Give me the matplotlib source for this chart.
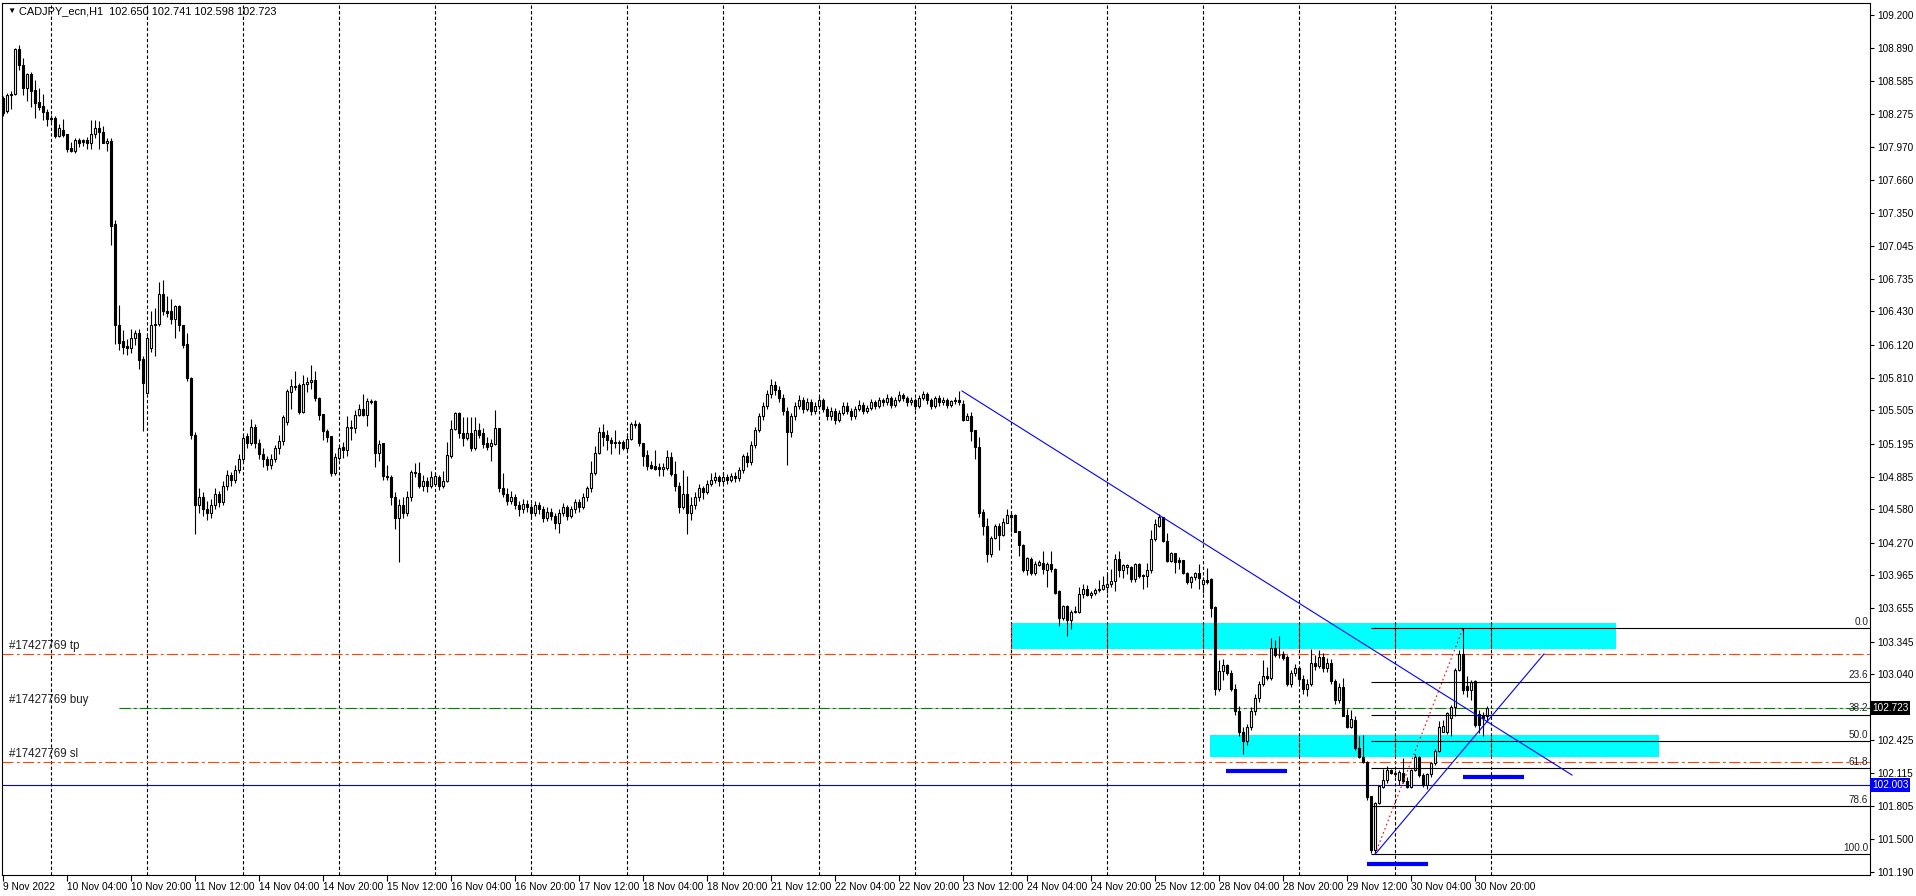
import matplotlib
matplotlib.use("Agg")
import matplotlib.pyplot as plt
from matplotlib.patches import Rectangle
from matplotlib.transforms import blended_transform_factory

plt.rcParams["font.family"] = ["Liberation Sans", "DejaVu Sans"]

symbol = "CADJPY_ecn,H1"
last_bar = "102.650 102.741 102.598 102.723"

# H1 bars, 9 Nov 12:00 .. 30 Nov 23:00, 12 bars per row
opens = [
    108.42, 108.30, 108.45, 108.46, 108.88, 108.73, 108.52, 108.65, 108.50, 108.39, 108.35, 108.29,  # 9 Nov
    108.24, 108.24, 108.07, 108.13, 108.09, 107.96, 107.93, 108.03, 108.03, 108.03, 108.00, 108.09,  # 10 Nov
    108.14, 108.11, 108.00, 108.02, 107.25, 106.30, 106.15, 106.11, 106.09, 106.18, 106.23, 105.99,
    105.67, 106.09, 106.30, 106.31, 106.59, 106.43, 106.43, 106.36, 106.48, 106.30, 106.13, 105.81,  # 11 Nov
    105.28, 104.62, 104.70, 104.58, 104.55, 104.62, 104.72, 104.65, 104.80, 104.90, 104.86, 104.95,
    105.05, 105.27, 105.20, 105.35, 105.20, 105.10, 105.05, 105.00, 105.05, 105.15, 105.22, 105.40,  # 14 Nov
    105.68, 105.73, 105.74, 105.49, 105.75, 105.77, 105.79, 105.62, 105.47, 105.31, 105.27, 104.92,
    105.06, 105.16, 105.14, 105.34, 105.34, 105.46, 105.52, 105.46, 105.59, 105.59, 105.11, 105.20,  # 15 Nov
    104.89, 104.88, 104.70, 104.50, 104.62, 104.55, 104.70, 104.93, 104.92, 104.80, 104.85, 104.80,
    104.82, 104.88, 104.80, 104.85, 105.08, 105.33, 105.48, 105.29, 105.25, 105.29, 105.15, 105.32,  # 16 Nov
    105.29, 105.20, 105.17, 105.19, 105.34, 104.78, 104.72, 104.66, 104.70, 104.62, 104.58, 104.63,
    104.60, 104.55, 104.62, 104.58, 104.50, 104.56, 104.52, 104.45, 104.55, 104.60, 104.52, 104.58,  # 17 Nov
    104.65, 104.60, 104.70, 104.78, 104.92, 105.11, 105.30, 105.28, 105.23, 105.21, 105.21, 105.21,
    105.15, 105.24, 105.38, 105.38, 105.20, 105.09, 105.00, 104.99, 104.98, 104.96, 104.97, 105.07,  # 18 Nov
    104.91, 104.80, 104.60, 104.72, 104.55, 104.62, 104.70, 104.78, 104.74, 104.82, 104.86, 104.88,
    104.85, 104.88, 104.86, 104.89, 104.87, 104.95, 105.08, 105.02, 105.18, 105.32, 105.45, 105.55,  # 21 Nov
    105.66, 105.74, 105.70, 105.62, 105.50, 105.30, 105.45, 105.55, 105.60, 105.52, 105.58, 105.50,
    105.55, 105.60, 105.52, 105.45, 105.50, 105.42, 105.48, 105.55, 105.50, 105.45, 105.52, 105.56,  # 22 Nov
    105.50, 105.53, 105.58, 105.55, 105.60, 105.58, 105.62, 105.56, 105.60, 105.65, 105.62, 105.58,
    105.60, 105.55, 105.62, 105.66, 105.60, 105.55, 105.62, 105.58, 105.60, 105.56, 105.59, 105.60,  # 23 Nov
    105.57, 105.42, 105.45, 105.32, 105.16, 104.56, 104.43, 104.16, 104.31, 104.43, 104.34, 104.45,
    104.53, 104.53, 104.38, 104.25, 104.01, 104.12, 103.99, 104.06, 104.08, 104.01, 104.07, 104.02,  # 24 Nov
    103.82, 103.57, 103.68, 103.55, 103.62, 103.62, 103.79, 103.84, 103.78, 103.80, 103.83, 103.84,
    103.86, 103.88, 103.91, 104.12, 104.01, 104.04, 104.04, 103.93, 104.07, 103.97, 103.96, 104.01,  # 25 Nov
    104.30, 104.43, 104.51, 104.29, 104.10, 104.17, 104.11, 104.11, 103.99, 103.90, 103.95, 103.99,
    103.88, 103.92, 103.93, 103.67, 102.90, 103.07, 103.13, 103.05, 102.90, 102.70, 102.50, 102.42,  # 28 Nov
    102.55, 102.70, 102.82, 102.95, 103.02, 103.01, 103.29, 103.22, 103.23, 103.20, 102.95, 103.05,
    103.10, 103.00, 102.90, 102.95, 103.15, 103.12, 103.20, 103.10, 103.15, 102.98, 102.80, 102.92,  # 29 Nov
    102.66, 102.55, 102.61, 102.35, 102.27, 102.22, 101.90, 101.40, 101.84, 101.99, 102.05, 102.15,
    102.12, 102.05, 102.12, 102.04, 101.99, 102.15, 102.27, 102.10, 102.01, 102.11, 102.21, 102.32,  # 30 Nov
    102.50, 102.50, 102.63, 102.73, 103.08, 103.23, 102.93, 102.89, 102.98, 102.67, 102.66, 102.650,
]
highs = [
    108.44, 108.47, 108.49, 108.89, 108.92, 108.80, 108.66, 108.67, 108.59, 108.52, 108.46, 108.32,
    108.27, 108.26, 108.18, 108.23, 108.09, 108.01, 108.05, 108.05, 108.04, 108.06, 108.22, 108.22,
    108.21, 108.16, 108.05, 108.05, 107.28, 106.49, 106.26, 106.17, 106.27, 106.26, 106.27, 106.01,
    106.20, 106.43, 106.46, 106.71, 106.72, 106.57, 106.55, 106.49, 106.49, 106.30, 106.23, 105.82,
    105.30, 104.78, 104.74, 104.66, 104.68, 104.78, 104.75, 104.85, 104.95, 104.93, 105.00, 105.10,
    105.28, 105.29, 105.43, 105.38, 105.24, 105.15, 105.08, 105.10, 105.18, 105.28, 105.46, 105.71,
    105.80, 105.87, 105.76, 105.84, 105.82, 105.93, 105.87, 105.63, 105.47, 105.33, 105.27, 105.11,
    105.17, 105.21, 105.45, 105.42, 105.51, 105.57, 105.66, 105.62, 105.61, 105.60, 105.23, 105.20,
    105.00, 104.90, 104.74, 104.68, 104.70, 104.75, 104.95, 105.01, 105.02, 104.90, 104.88, 104.94,
    104.92, 104.90, 104.94, 105.21, 105.42, 105.49, 105.49, 105.44, 105.44, 105.44, 105.44, 105.39,
    105.34, 105.26, 105.24, 105.51, 105.34, 104.92, 104.78, 104.75, 104.72, 104.66, 104.68, 104.67,
    104.64, 104.66, 104.65, 104.61, 104.60, 104.59, 104.55, 104.58, 104.64, 104.62, 104.61, 104.68,
    104.68, 104.73, 104.80, 105.03, 105.17, 105.35, 105.38, 105.32, 105.26, 105.32, 105.23, 105.23,
    105.28, 105.40, 105.42, 105.40, 105.20, 105.14, 105.03, 105.14, 105.01, 105.01, 105.14, 105.12,
    105.03, 104.84, 104.95, 104.89, 104.70, 104.74, 104.82, 104.80, 104.86, 104.92, 104.93, 104.90,
    104.93, 104.91, 104.92, 104.93, 104.98, 105.10, 105.12, 105.22, 105.35, 105.48, 105.58, 105.70,
    105.80, 105.78, 105.73, 105.66, 105.54, 105.48, 105.58, 105.65, 105.63, 105.62, 105.61, 105.58,
    105.64, 105.62, 105.55, 105.54, 105.53, 105.51, 105.58, 105.58, 105.53, 105.55, 105.60, 105.58,
    105.56, 105.61, 105.60, 105.63, 105.62, 105.66, 105.64, 105.63, 105.69, 105.67, 105.64, 105.63,
    105.62, 105.65, 105.69, 105.68, 105.62, 105.64, 105.65, 105.63, 105.62, 105.60, 105.63, 105.69,
    105.60, 105.48, 105.49, 105.32, 105.26, 104.58, 104.50, 104.33, 104.44, 104.45, 104.50, 104.58,
    104.55, 104.54, 104.38, 104.26, 104.14, 104.14, 104.10, 104.11, 104.19, 104.09, 104.19, 104.03,
    103.83, 103.69, 103.69, 103.64, 103.68, 103.86, 103.88, 103.87, 103.82, 103.85, 103.92, 103.96,
    103.98, 104.02, 104.16, 104.19, 104.07, 104.07, 104.05, 104.08, 104.08, 103.98, 104.08, 104.39,
    104.49, 104.54, 104.51, 104.36, 104.18, 104.17, 104.14, 104.11, 104.00, 103.96, 104.00, 104.07,
    103.95, 104.03, 103.94, 103.68, 103.17, 103.18, 103.14, 103.08, 102.95, 102.74, 102.55, 102.58,
    102.73, 102.86, 102.98, 103.17, 103.11, 103.38, 103.36, 103.40, 103.26, 103.22, 103.08, 103.14,
    103.12, 103.03, 103.00, 103.28, 103.22, 103.27, 103.24, 103.19, 103.18, 103.00, 102.96, 103.01,
    102.72, 102.71, 102.65, 102.46, 102.47, 102.23, 101.90, 101.85, 102.01, 102.16, 102.18, 102.16,
    102.15, 102.15, 102.26, 102.08, 102.16, 102.30, 102.28, 102.12, 102.12, 102.22, 102.34, 102.60,
    102.61, 102.69, 102.75, 103.10, 103.27, 103.47, 103.02, 102.99, 102.99, 102.71, 102.69, 102.741,
]
lows = [
    108.26, 108.28, 108.32, 108.45, 108.69, 108.45, 108.40, 108.34, 108.24, 108.31, 108.22, 108.16,
    108.20, 108.05, 108.06, 108.06, 107.92, 107.92, 107.91, 107.97, 107.98, 107.95, 107.95, 108.05,
    107.95, 108.00, 107.93, 107.05, 106.13, 106.07, 106.03, 106.02, 106.04, 106.12, 105.89, 105.31,
    105.67, 106.05, 106.01, 106.29, 106.40, 106.38, 106.31, 106.18, 106.25, 106.09, 105.78, 105.24,
    104.35, 104.55, 104.52, 104.48, 104.50, 104.58, 104.60, 104.62, 104.76, 104.80, 104.83, 104.92,
    105.02, 105.15, 105.18, 105.15, 105.05, 104.98, 104.95, 104.96, 105.02, 105.10, 105.18, 105.37,
    105.52, 105.70, 105.47, 105.48, 105.68, 105.71, 105.59, 105.42, 105.23, 105.21, 104.89, 104.90,
    105.04, 105.06, 105.08, 105.23, 105.29, 105.45, 105.45, 105.36, 105.57, 104.98, 105.03, 104.86,
    104.86, 104.62, 104.40, 104.09, 104.50, 104.52, 104.66, 104.88, 104.78, 104.75, 104.74, 104.78,
    104.80, 104.76, 104.78, 104.84, 105.06, 105.32, 105.25, 105.17, 105.23, 105.13, 105.14, 105.25,
    105.15, 105.14, 105.03, 105.18, 104.74, 104.70, 104.62, 104.63, 104.58, 104.52, 104.55, 104.56,
    104.50, 104.52, 104.54, 104.46, 104.47, 104.48, 104.40, 104.36, 104.52, 104.48, 104.50, 104.55,
    104.56, 104.58, 104.66, 104.74, 104.90, 105.10, 105.17, 105.14, 105.10, 105.15, 105.10, 105.14,
    105.14, 105.23, 105.34, 105.17, 104.99, 104.95, 104.96, 104.95, 104.89, 104.89, 104.95, 104.89,
    104.75, 104.55, 104.58, 104.35, 104.48, 104.58, 104.66, 104.68, 104.72, 104.80, 104.83, 104.80,
    104.82, 104.82, 104.84, 104.84, 104.85, 104.92, 104.98, 105.00, 105.15, 105.30, 105.42, 105.52,
    105.62, 105.65, 105.58, 105.46, 105.00, 105.26, 105.42, 105.52, 105.48, 105.50, 105.46, 105.47,
    105.52, 105.49, 105.42, 105.42, 105.38, 105.40, 105.46, 105.47, 105.42, 105.43, 105.50, 105.47,
    105.48, 105.51, 105.52, 105.53, 105.55, 105.56, 105.53, 105.54, 105.58, 105.59, 105.55, 105.56,
    105.51, 105.53, 105.60, 105.57, 105.52, 105.53, 105.55, 105.56, 105.53, 105.54, 105.57, 105.56,
    105.41, 105.42, 105.22, 105.05, 104.51, 104.34, 104.09, 104.14, 104.30, 104.20, 104.33, 104.45,
    104.37, 104.37, 104.15, 104.00, 103.97, 103.97, 103.97, 104.05, 103.98, 103.86, 104.00, 103.79,
    103.49, 103.55, 103.40, 103.46, 103.61, 103.61, 103.75, 103.77, 103.75, 103.78, 103.81, 103.83,
    103.80, 103.86, 103.82, 103.95, 103.94, 103.98, 103.90, 103.90, 103.94, 103.84, 103.86, 103.99,
    104.29, 104.42, 104.28, 104.09, 104.09, 103.99, 104.02, 103.98, 103.88, 103.85, 103.92, 103.84,
    103.80, 103.88, 103.58, 102.85, 102.88, 102.99, 103.03, 102.88, 102.66, 102.46, 102.30, 102.38,
    102.52, 102.66, 102.78, 102.93, 102.99, 102.99, 103.20, 103.19, 103.17, 102.93, 102.92, 103.02,
    102.96, 102.86, 102.84, 102.93, 103.08, 103.10, 103.06, 103.06, 102.95, 102.76, 102.77, 102.65,
    102.54, 102.54, 102.33, 102.26, 102.21, 101.87, 101.37, 101.36, 101.83, 101.98, 102.02, 102.11,
    102.08, 102.01, 102.02, 101.98, 101.98, 102.14, 102.08, 101.99, 101.97, 102.08, 102.19, 102.31,
    102.50, 102.48, 102.46, 102.65, 103.07, 102.86, 102.83, 102.80, 102.55, 102.49, 102.46, 102.598,
]
closes = [
    108.28, 108.45, 108.46, 108.88, 108.73, 108.52, 108.65, 108.49, 108.38, 108.34, 108.29, 108.23,
    108.23, 108.07, 108.14, 108.08, 107.95, 107.93, 108.03, 108.00, 108.01, 108.00, 108.09, 108.14,
    108.11, 108.00, 108.02, 107.23, 106.30, 106.14, 106.10, 106.09, 106.18, 106.23, 105.98, 105.76,
    106.18, 106.30, 106.31, 106.59, 106.43, 106.42, 106.36, 106.48, 106.30, 106.12, 105.81, 105.28,
    104.62, 104.70, 104.58, 104.55, 104.62, 104.72, 104.65, 104.80, 104.90, 104.86, 104.95, 105.05,
    105.25, 105.20, 105.35, 105.20, 105.10, 105.05, 105.00, 105.05, 105.15, 105.22, 105.44, 105.69,
    105.73, 105.72, 105.49, 105.75, 105.77, 105.79, 105.62, 105.46, 105.31, 105.26, 104.92, 105.07,
    105.15, 105.14, 105.35, 105.35, 105.46, 105.52, 105.46, 105.59, 105.58, 105.11, 105.19, 104.89,
    104.88, 104.70, 104.50, 104.62, 104.55, 104.70, 104.93, 104.92, 104.80, 104.85, 104.80, 104.88,
    104.89, 104.80, 104.85, 105.09, 105.33, 105.48, 105.29, 105.25, 105.29, 105.15, 105.32, 105.28,
    105.19, 105.16, 105.20, 105.34, 104.78, 104.72, 104.66, 104.70, 104.62, 104.58, 104.63, 104.60,
    104.55, 104.62, 104.58, 104.50, 104.56, 104.52, 104.45, 104.55, 104.60, 104.52, 104.58, 104.65,
    104.60, 104.70, 104.78, 104.92, 105.11, 105.30, 105.26, 105.23, 105.20, 105.20, 105.20, 105.15,
    105.24, 105.38, 105.37, 105.20, 105.08, 104.99, 104.97, 104.96, 104.96, 104.98, 105.07, 104.91,
    104.80, 104.60, 104.72, 104.55, 104.62, 104.70, 104.78, 104.74, 104.82, 104.86, 104.88, 104.85,
    104.88, 104.86, 104.89, 104.87, 104.95, 105.08, 105.02, 105.18, 105.32, 105.45, 105.55, 105.66,
    105.74, 105.70, 105.62, 105.50, 105.30, 105.45, 105.55, 105.60, 105.52, 105.58, 105.50, 105.55,
    105.60, 105.52, 105.45, 105.50, 105.42, 105.48, 105.55, 105.50, 105.45, 105.52, 105.56, 105.50,
    105.53, 105.58, 105.55, 105.60, 105.58, 105.62, 105.56, 105.60, 105.65, 105.62, 105.58, 105.60,
    105.55, 105.62, 105.66, 105.60, 105.55, 105.62, 105.58, 105.60, 105.56, 105.59, 105.60, 105.58,
    105.42, 105.45, 105.31, 105.16, 104.55, 104.43, 104.16, 104.31, 104.43, 104.34, 104.46, 104.53,
    104.51, 104.37, 104.25, 104.01, 104.13, 103.99, 104.07, 104.09, 104.02, 104.07, 104.02, 103.80,
    103.57, 103.68, 103.55, 103.62, 103.63, 103.79, 103.84, 103.78, 103.80, 103.83, 103.84, 103.87,
    103.88, 103.91, 104.12, 104.01, 104.06, 104.06, 103.93, 104.07, 103.96, 103.96, 104.01, 104.30,
    104.44, 104.51, 104.29, 104.10, 104.17, 104.09, 104.09, 103.99, 103.90, 103.95, 103.99, 103.94,
    103.92, 103.90, 103.66, 102.90, 103.07, 103.13, 103.05, 102.90, 102.70, 102.50, 102.42, 102.55,
    102.70, 102.82, 102.95, 103.02, 103.01, 103.29, 103.22, 103.22, 103.19, 102.95, 103.05, 103.10,
    103.00, 102.90, 102.95, 103.15, 103.12, 103.20, 103.10, 103.15, 102.98, 102.80, 102.92, 102.65,
    102.55, 102.62, 102.35, 102.27, 102.22, 101.89, 101.40, 101.84, 102.00, 102.05, 102.15, 102.12,
    102.11, 102.13, 102.04, 101.99, 102.15, 102.27, 102.10, 102.01, 102.11, 102.21, 102.32, 102.55,
    102.56, 102.68, 102.73, 103.08, 103.23, 102.89, 102.89, 102.97, 102.57, 102.57, 102.63, 102.723,
]
assert len(opens) == len(highs) == len(lows) == len(closes) == 372

time_labels = ["9 Nov 2022", "10 Nov 04:00", "10 Nov 20:00", "11 Nov 12:00", "14 Nov 04:00",
               "14 Nov 20:00", "15 Nov 12:00", "16 Nov 04:00", "16 Nov 20:00", "17 Nov 12:00",
               "18 Nov 04:00", "18 Nov 20:00", "21 Nov 12:00", "22 Nov 04:00", "22 Nov 20:00",
               "23 Nov 12:00", "24 Nov 04:00", "24 Nov 20:00", "25 Nov 12:00", "28 Nov 04:00",
               "28 Nov 20:00", "29 Nov 12:00", "30 Nov 04:00", "30 Nov 20:00"]
price_ticks = [109.200, 108.890, 108.585, 108.275, 107.970, 107.660, 107.350, 107.045, 106.735,
               106.430, 106.120, 105.810, 105.505, 105.195, 104.885, 104.580, 104.270, 103.965,
               103.655, 103.345, 103.040, 102.425, 102.115, 101.805, 101.500, 101.190]

# order levels
order_id = "#17427769"
tp_price = 103.230
buy_price = 102.722
sl_price = 102.218
bid_price = 102.723
blue_level = 102.003
buy_line_from = 29  # bar where the open-price line starts

# fibo from the 29 Nov low to the 30 Nov high
fib_low = (343, 101.358)
fib_high = (365, 103.470)
fib_start = 342
fib_levels = [0.0, 23.6, 38.2, 50.0, 61.8, 78.6, 100.0]

# zones: bar from, bar to, price low, price high
zones = [(252, 403.25, 103.276, 103.517), (301.75, 414.0, 102.270, 102.473)]
# trend lines: (bar, price) pairs
down_line = [(239.75, 105.687), (392.25, 102.099)]
up_line = [(343, 101.358), (385.25, 103.230)]
# short thick marks: bar from, bar to, price
marks = [(305.75, 321.0, 102.133), (365.0, 380.25, 102.078), (341.0, 356.25, 101.268)]

W, H = 1916, 896
fig = plt.figure(figsize=(W / 100, H / 100), dpi=100)
ax = fig.add_axes([2 / W, 21 / H, 1868 / W, 872 / H])
ax.set_xlim(-0.25, 466.75)
ax.set_ylim(101.165, 109.312)

n = len(closes)
xs = list(range(n))

# day separators (00:00 bars)
day_bars = list(range(12, n + 1, 24))
for d in day_bars:
    ax.axvline(d, color="black", lw=0.8, ls=(0, (3, 2)), zorder=1)

for x0, x1, lo, hi in zones:
    ax.add_patch(Rectangle((x0, lo), x1 - x0, hi - lo, facecolor="#00FFFF", edgecolor="none", zorder=0.5))
    for d in day_bars:
        if x0 <= d <= x1:
            ax.vlines(d, lo, hi, color="red", lw=0.8, ls=(0, (3, 2)), zorder=1.2)

# trade lines
dashdot = (0, (10, 3, 2.5, 3))
ax.axhline(tp_price, color="#FF4500", lw=0.8, ls=dashdot, zorder=2)
ax.axhline(sl_price, color="#FF4500", lw=0.8, ls=dashdot, zorder=2)
ax.hlines(bid_price, buy_line_from, 466.75, color="#C0C0C0", lw=0.8, zorder=2)
ax.hlines(buy_price, buy_line_from, 466.75, color="#008000", lw=0.8, ls=dashdot, zorder=2.1)
ax.axhline(blue_level, color="#0000FF", lw=0.8, zorder=2)

# candles
ax.vlines(xs, lows, highs, color="black", lw=0.8, zorder=3)
bottoms = [min(o, c) for o, c in zip(opens, closes)]
heights = [max(abs(c - o), 0.004) for o, c in zip(opens, closes)]
faces = ["white" if c >= o else "black" for o, c in zip(opens, closes)]
ax.bar(xs, heights, bottom=bottoms, width=0.55, color=faces, edgecolor="black", lw=0.8, zorder=4)

# fibonacci
span = fib_high[1] - fib_low[1]
for lvl in fib_levels:
    p = fib_high[1] - span * lvl / 100
    ax.hlines(p, fib_start, 466.75, color="black", lw=0.8, zorder=5)
    ax.annotate(f"{lvl:.1f}", (466.3, p), xytext=(0, 1), textcoords="offset points",
                ha="right", va="bottom", fontsize=7.2, color="#202020", zorder=6)
ax.plot([fib_low[0], fib_high[0]], [fib_low[1], fib_high[1]], color="red", lw=0.8,
        ls=(0, (1.5, 2.5)), zorder=5)

# trend lines and marks
for line in (down_line, up_line):
    ax.plot([p[0] for p in line], [p[1] for p in line], color="#0000FF", lw=0.8, zorder=5)
for x0, x1, p in marks:
    ax.hlines(p, x0, x1, color="#0000FF", lw=3, zorder=5)

# order labels on the left
for name, p in (("tp", tp_price), ("buy", buy_price), ("sl", sl_price)):
    ax.annotate(f"{order_id} {name}", (1.5, p), xytext=(0, 1.5), textcoords="offset points",
                ha="left", va="bottom", fontsize=8.3, color="#202020", zorder=6)

# axes styling
for s in ax.spines.values():
    s.set_linewidth(0.8)
    s.set_color("black")
ax.yaxis.tick_right()
ax.set_yticks(price_ticks)
ax.set_yticklabels([f"{p:.3f}" for p in price_ticks])
ax.tick_params(axis="y", length=3, width=0.8, labelsize=7.2, pad=2)
ax.set_xticks(list(range(0, n, 16)))
ax.set_xticklabels(time_labels)
ax.tick_params(axis="x", length=4, width=0.8, labelsize=7.3, pad=1)
for lbl in ax.get_xticklabels():
    lbl.set_horizontalalignment("left")

# price boxes on the scale
trans = blended_transform_factory(ax.transAxes, ax.transData)
ax.text(1.001, bid_price, f"{bid_price:.3f}", transform=trans, ha="left", va="center",
        color="white", fontsize=7.2, clip_on=False, zorder=10,
        bbox=dict(boxstyle="square,pad=0.2", fc="black", ec="none"))
ax.text(1.001, blue_level, f"{blue_level:.3f}", transform=trans, ha="left", va="center",
        color="white", fontsize=7.2, clip_on=False, zorder=10,
        bbox=dict(boxstyle="square,pad=0.2", fc="#0000FF", ec="none"))

# header
fig.text(7 / W, 1 - 11 / H, "\u25bc", fontsize=6, va="center", ha="left")
fig.text(19 / W, 1 - 11 / H, f"{symbol}  {last_bar}", fontsize=7.9, va="center", ha="left")

fig.savefig("out.png", dpi=100, facecolor="white")
